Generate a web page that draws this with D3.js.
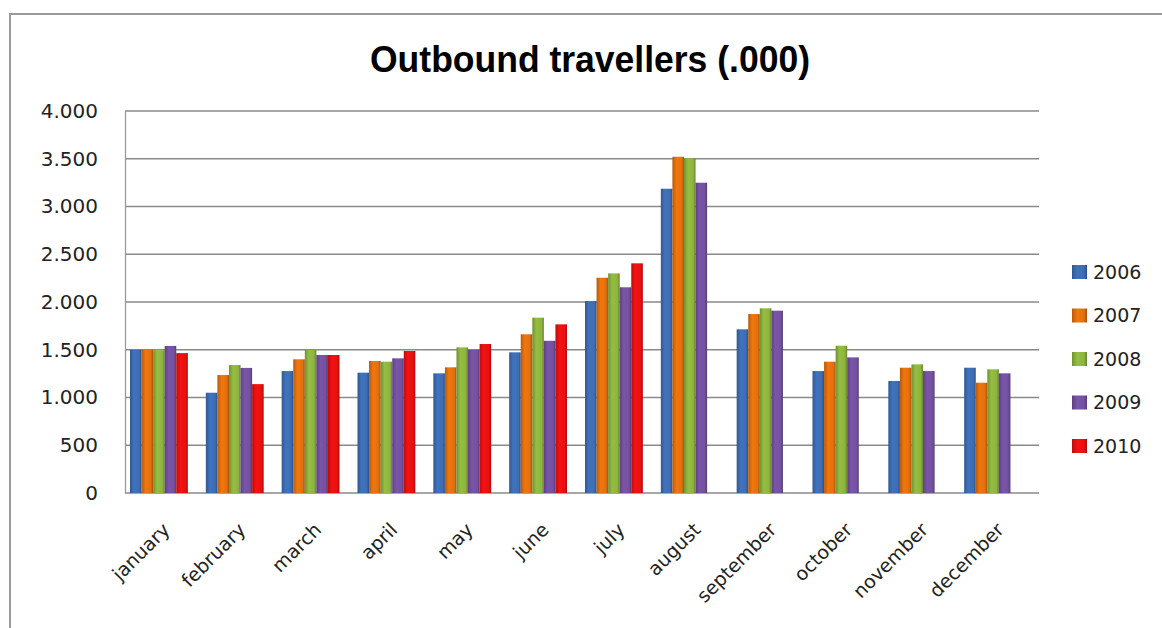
<!DOCTYPE html>
<html>
<head>
<meta charset="utf-8">
<script src="https://cdn.jsdelivr.net/npm/d3@7"></script>
<style>
  body { margin: 0; background: #fff; }
  text { font-family: "DejaVu Sans", Arial, sans-serif; fill: #222; }
</style>
</head>
<body>
<script>
const width = 1162;
const height = 628;

// Data (thousands of travellers)
const months = ["january", "february", "march", "april", "may", "june",
  "july", "august", "september", "october", "november", "december"];
const years = ["2006", "2007", "2008", "2009", "2010"];
const v2006 = [1500, 1050, 1277, 1260, 1253, 1473, 2010, 3186, 1714, 1277, 1173, 1312];
const v2007 = [1500, 1235, 1400, 1382, 1316, 1662, 2254, 3521, 1874, 1375, 1312, 1155];
const v2008 = [1495, 1340, 1497, 1375, 1525, 1836, 2300, 3504, 1934, 1542, 1347, 1295];
const v2009 = [1540, 1310, 1445, 1410, 1500, 1594, 2154, 3249, 1909, 1420, 1277, 1253];
const v2010 = [1465, 1140, 1445, 1487, 1560, 1766, 2405, null, null, null, null, null];
const yTicks = [0, 500, 1000, 1500, 2000, 2500, 3000, 3500, 4000];
const colors = ["#3d6db4", "#e4700c", "#8db43e", "#7451a0", "#e81010"];

const series = [v2006, v2007, v2008, v2009, v2010];
const data = months.map((m, i) => ({
  month: m,
  values: years.map((y, j) => ({ year: y, value: series[j][i], k: j }))
}));

const svg = d3.select("body").append("svg").attr("width", width).attr("height", height);

// gradients for the cylinder-ish bars
const defs = svg.append("defs");
colors.forEach((c, i) => {
  const g = defs.append("linearGradient").attr("id", "g" + i)
    .attr("x1", 0).attr("x2", 1).attr("y1", 0).attr("y2", 0);
  g.append("stop").attr("offset", "0%").attr("stop-color", d3.color(c).darker(0.6));
  g.append("stop").attr("offset", "35%").attr("stop-color", d3.color(c).brighter(0.15));
  g.append("stop").attr("offset", "80%").attr("stop-color", c);
  g.append("stop").attr("offset", "100%").attr("stop-color", d3.color(c).darker(0.9));
});

// outer frame
svg.append("path")
  .attr("d", `M10,${height} L10,14 L${width},14`)
  .attr("fill", "none").attr("stroke", "#9a9a9a").attr("stroke-width", 2);

// title (condensed look)
svg.append("text")
  .attr("x", 370).attr("y", 72)
  .attr("textLength", 440).attr("lengthAdjust", "spacingAndGlyphs")
  .style("font-family", "'Liberation Sans', Arial, sans-serif")
  .style("font-weight", "bold").style("font-size", "37px").style("fill", "#000")
  .text("Outbound travellers (.000)");

const plotL = 125, plotR = 1039, plotT = 111, plotB = 493;

const y = d3.scaleLinear().domain([0, 4000]).range([plotB, plotT]);
const x0 = d3.scaleBand().domain(months).range([plotL - 4, plotR - 8]);
const x1 = d3.scaleBand().domain(years).range([9, x0.bandwidth() - 9]);

// gridlines
svg.append("g").selectAll("line").data(yTicks).join("line")
  .attr("x1", plotL).attr("x2", plotR)
  .attr("y1", d => y(d)).attr("y2", d => y(d))
  .attr("stroke", "#8a8a8a").attr("stroke-width", 1.3);

// y axis
const yAxis = svg.append("g").attr("transform", `translate(${plotL},0)`)
  .call(d3.axisLeft(y).tickValues(yTicks).tickSize(0).tickPadding(27)
    .tickFormat(d => d3.format(",")(d).replace(",", ".")));
yAxis.select(".domain").attr("stroke", "#9a9a9a").attr("stroke-width", 1.3);
yAxis.selectAll("text").style("font-size", "20px").style("fill", "#222");

// bars
svg.append("g").selectAll("g").data(data).join("g")
  .attr("transform", d => `translate(${x0(d.month)},0)`)
  .selectAll("rect").data(d => d.values.filter(v => v.value != null)).join("rect")
  .attr("x", d => x1(d.year))
  .attr("width", x1.bandwidth())
  .attr("y", d => y(d.value))
  .attr("height", d => y(0) - y(d.value))
  .attr("fill", d => `url(#g${d.k})`);

// x axis labels
const xAxis = svg.append("g").attr("transform", `translate(0,${plotB})`)
  .call(d3.axisBottom(x0).tickSize(0).tickPadding(0));
xAxis.select(".domain").remove();
xAxis.selectAll("text")
  .style("font-size", "19px").style("fill", "#222")
  .attr("text-anchor", "end")
  .attr("dy", 0)
  .attr("transform", "translate(12,38) rotate(-45)");

// legend
const legend = svg.append("g").attr("transform", "translate(1072,272)");
const item = legend.selectAll("g").data(years).join("g")
  .attr("transform", (d, i) => `translate(0,${i * 43.5})`);
item.append("rect").attr("x", 0).attr("y", -7).attr("width", 15).attr("height", 14)
  .attr("fill", (d, i) => `url(#g${i})`);
item.append("text").attr("x", 21).attr("y", 0).attr("dy", "0.35em")
  .style("font-size", "19px").style("fill", "#222")
  .text(d => d);
</script>
</body>
</html>
